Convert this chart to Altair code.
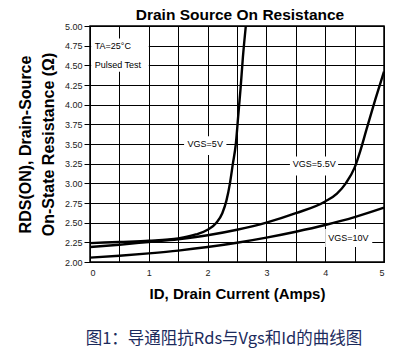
import altair as alt
import pandas as pd

# ---- data ----
id_5v = [0, 0.5, 1, 1.5, 1.8, 2.0, 2.15, 2.25, 2.32, 2.38, 2.43, 2.48, 2.52, 2.56, 2.6, 2.65]
r_5v = [2.24, 2.255, 2.27, 2.30, 2.35, 2.41, 2.50, 2.62, 2.78, 3.0, 3.25, 3.5, 3.85, 4.2, 4.6, 5.0]

id_55v = [0, 0.5, 1, 1.5, 2, 2.5, 3, 3.5, 4, 4.2, 4.35, 4.5, 4.6, 4.7, 4.85, 5]
r_55v = [2.19, 2.22, 2.255, 2.29, 2.34, 2.41, 2.50, 2.62, 2.77, 2.87, 3.0, 3.2, 3.42, 3.68, 4.06, 4.42]

id_10v = [0, 0.5, 1, 1.5, 2, 2.5, 3, 3.5, 4, 4.5, 5]
r_10v = [2.055, 2.08, 2.11, 2.145, 2.19, 2.245, 2.31, 2.385, 2.47, 2.57, 2.69]

x_ticks = [0, 0.5, 1, 1.5, 2, 2.5, 3, 3.5, 4, 4.5, 5]
y_ticks = [2.0, 2.25, 2.5, 2.75, 3.0, 3.25, 3.5, 3.75, 4.0, 4.25, 4.5, 4.75, 5.0]

# annotation boxes (data coordinates) and texts
box_x1 = [0.02, 1.6, 3.4, 4.0]
box_x2 = [1.0, 2.32, 4.22, 4.8]
box_y1 = [4.42, 3.36, 3.10, 2.19]
box_y2 = [4.84, 3.60, 3.34, 2.42]

label_x = [0.08, 0.08, 1.66, 3.45, 4.05]
label_y = [4.75, 4.5, 3.5, 3.25, 2.3]
label_t = ["TA=25°C", "Pulsed Test", "VGS=5V", "VGS=5.5V", "VGS=10V"]

title = "Drain Source On Resistance"
x_title = "ID, Drain Current (Amps)"
y_title = ["RDS(ON), Drain-Source", "On-State Resistance (Ω)"]
caption = "图1：导通阻抗Rds与Vgs和Id的曲线图"

# ---- tables ----
rows = []
for name, xs, ys in [("5V", id_5v, r_5v), ("5.5V", id_55v, r_55v), ("10V", id_10v, r_10v)]:
    for i, (a, b) in enumerate(zip(xs, ys)):
        rows.append({"series": name, "id": a, "r": b, "order": i})
lines_df = pd.DataFrame(rows)
boxes_df = pd.DataFrame({"x1": box_x1, "x2": box_x2, "y1": box_y1, "y2": box_y2})
labels_df = pd.DataFrame({"x": label_x, "y": label_y, "t": label_t})

xscale = alt.Scale(domain=[0, 5], nice=False, zero=False)
yscale = alt.Scale(domain=[2, 5], nice=False, zero=False)

x_axis = alt.Axis(values=x_ticks, title=x_title, grid=True,
                  labelExpr="datum.value % 1 == 0 ? format(datum.value, 'd') : ''",
                  ticks=False, labelPadding=6, titlePadding=9,
                  titleFontSize=15, titleFontWeight="bold")
y_axis = alt.Axis(values=y_ticks, format=".2f", title=y_title, grid=True,
                  tickSize=6, labelPadding=2, titlePadding=8,
                  titleFontSize=16, titleFontWeight="bold", titleLineHeight=23)

lines = alt.Chart(lines_df).mark_line(color="black", strokeWidth=2.4, interpolate="monotone").encode(
    x=alt.X("id:Q", scale=xscale, axis=x_axis),
    y=alt.Y("r:Q", scale=yscale, axis=y_axis),
    detail="series:N", order="order:Q")

boxes = alt.Chart(boxes_df).mark_rect(color="white").encode(
    x=alt.X("x1:Q", scale=xscale, axis=x_axis), x2="x2:Q",
    y=alt.Y("y1:Q", scale=yscale, axis=y_axis), y2="y2:Q")

labels = alt.Chart(labels_df).mark_text(align="left", baseline="middle", fontSize=9,
                                         font="Liberation Sans", color="black").encode(
    x=alt.X("x:Q", scale=xscale, axis=x_axis), y=alt.Y("y:Q", scale=yscale, axis=y_axis),
    text="t:N")

ttl = alt.Chart(pd.DataFrame({"t": [title]})).mark_text(
    font="Liberation Sans", fontSize=15.5, fontWeight="bold", color="black",
    align="center", baseline="alphabetic"
).encode(x=alt.value(150), y=alt.value(-6.5), text="t:N")

cap = alt.Chart(pd.DataFrame({"t": [caption]})).mark_text(
    font="Noto Sans CJK SC", fontSize=16.5, color="#1b2a5c", align="center", baseline="middle"
).encode(x=alt.value(134), y=alt.value(313), text="t:N")

chart = alt.layer(lines, boxes, labels, ttl, cap).properties(
    width=294, height=236,
    autosize=alt.AutoSizeParams(type="none"),
    padding={"left": 82, "top": 18, "right": 17, "bottom": 86},
).configure_axis(
    gridColor="black", gridOpacity=1, gridWidth=1, domainColor="black", tickColor="black",
    labelFont="Liberation Sans", labelFontSize=9, labelColor="#222",
    titleFont="Liberation Sans", titleColor="black",
).configure_view(stroke="black", strokeWidth=1.5)

chart.save("out.html", embed_options={"renderer": "svg", "actions": False})
